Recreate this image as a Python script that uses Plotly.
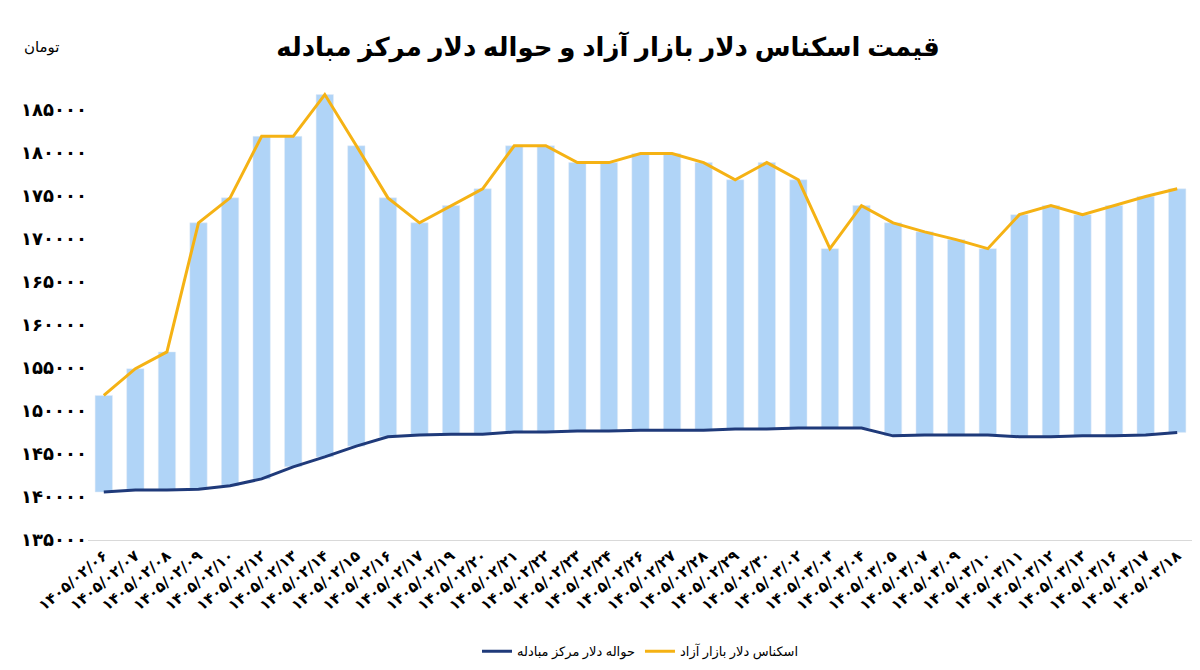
import plotly.graph_objects as go

dates = ["1405/02/06", "1405/02/07", "1405/02/08", "1405/02/09", "1405/02/10", "1405/02/12",
         "1405/02/13", "1405/02/14", "1405/02/15", "1405/02/16", "1405/02/17", "1405/02/19",
         "1405/02/20", "1405/02/21", "1405/02/22", "1405/02/23", "1405/02/24", "1405/02/26",
         "1405/02/27", "1405/02/28", "1405/02/29", "1405/02/30", "1405/03/02", "1405/03/03",
         "1405/03/04", "1405/03/05", "1405/03/07", "1405/03/09", "1405/03/10", "1405/03/11",
         "1405/03/12", "1405/03/13", "1405/03/16", "1405/03/17", "1405/03/18"]
free_market = [151800, 154900, 156850, 171850, 174750, 181900, 181900, 186750, 180800, 174750,
               171850, 173850, 175800, 180800, 180800, 178850, 178850, 179900, 179900, 178850,
               176850, 178850, 176850, 168850, 173850, 171850, 170800, 169900, 168850, 172800,
               173850, 172800, 173850, 174900, 175800]
exchange = [140580, 140800, 140800, 140900, 141300, 142100, 143500, 144650, 145900, 147000,
            147200, 147300, 147300, 147550, 147550, 147650, 147650, 147750, 147750, 147750,
            147900, 147900, 148000, 148000, 148000, 147100, 147200, 147200, 147200, 147000,
            147000, 147100, 147100, 147200, 147500]
y_ticks = [135000, 140000, 145000, 150000, 155000, 160000, 165000, 170000, 175000, 180000, 185000]

fa = str.maketrans("0123456789", "۰۱۲۳۴۵۶۷۸۹")
labels = ["<b>" + d.translate(fa) + "</b>" for d in dates]

fig = go.Figure()
fig.add_trace(go.Bar(x=labels, y=[f - e for f, e in zip(free_market, exchange)], base=exchange,
                     marker_color="#b0d4f7", showlegend=False, hoverinfo="skip"))
fig.add_trace(go.Scatter(x=labels, y=exchange, mode="lines", name="حواله دلار مرکز مبادله",
                         line=dict(color="#1f3a7a", width=3)))
fig.add_trace(go.Scatter(x=labels, y=free_market, mode="lines", name="اسکناس دلار بازار آزاد",
                         line=dict(color="#f5b214", width=3)))

fig.update_layout(
    width=1200, height=670, plot_bgcolor="white", paper_bgcolor="white",
    margin=dict(l=80, r=15, t=50, b=130), bargap=0.45,
    font=dict(family="Noto Sans, DejaVu Sans", color="black"),
    title=dict(text="<b>قیمت اسکناس دلار بازار آزاد و حواله دلار مرکز مبادله</b>",
               x=0.5, y=0.955, xanchor="center", font=dict(size=26)),
    legend=dict(orientation="h", x=0.5, xanchor="center", y=-0.2, yanchor="top",
                font=dict(size=13), traceorder="normal"),
    annotations=[dict(text="تومان", xref="paper", yref="paper", x=-0.06, y=1.0,
                      xanchor="left", yanchor="bottom", showarrow=False, font=dict(size=15))],
)
fig.update_xaxes(tickangle=-40, tickfont=dict(size=15, family="DejaVu Sans"),
                 showline=True, linecolor="#d9d9d9", ticks="")
fig.update_yaxes(range=[135000, 191000], tickvals=y_ticks,
                 ticktext=["<b>" + str(v).translate(fa) + "</b>" for v in y_ticks],
                 tickfont=dict(size=18), showgrid=False, zeroline=False)

fig.write_html("out.html")
